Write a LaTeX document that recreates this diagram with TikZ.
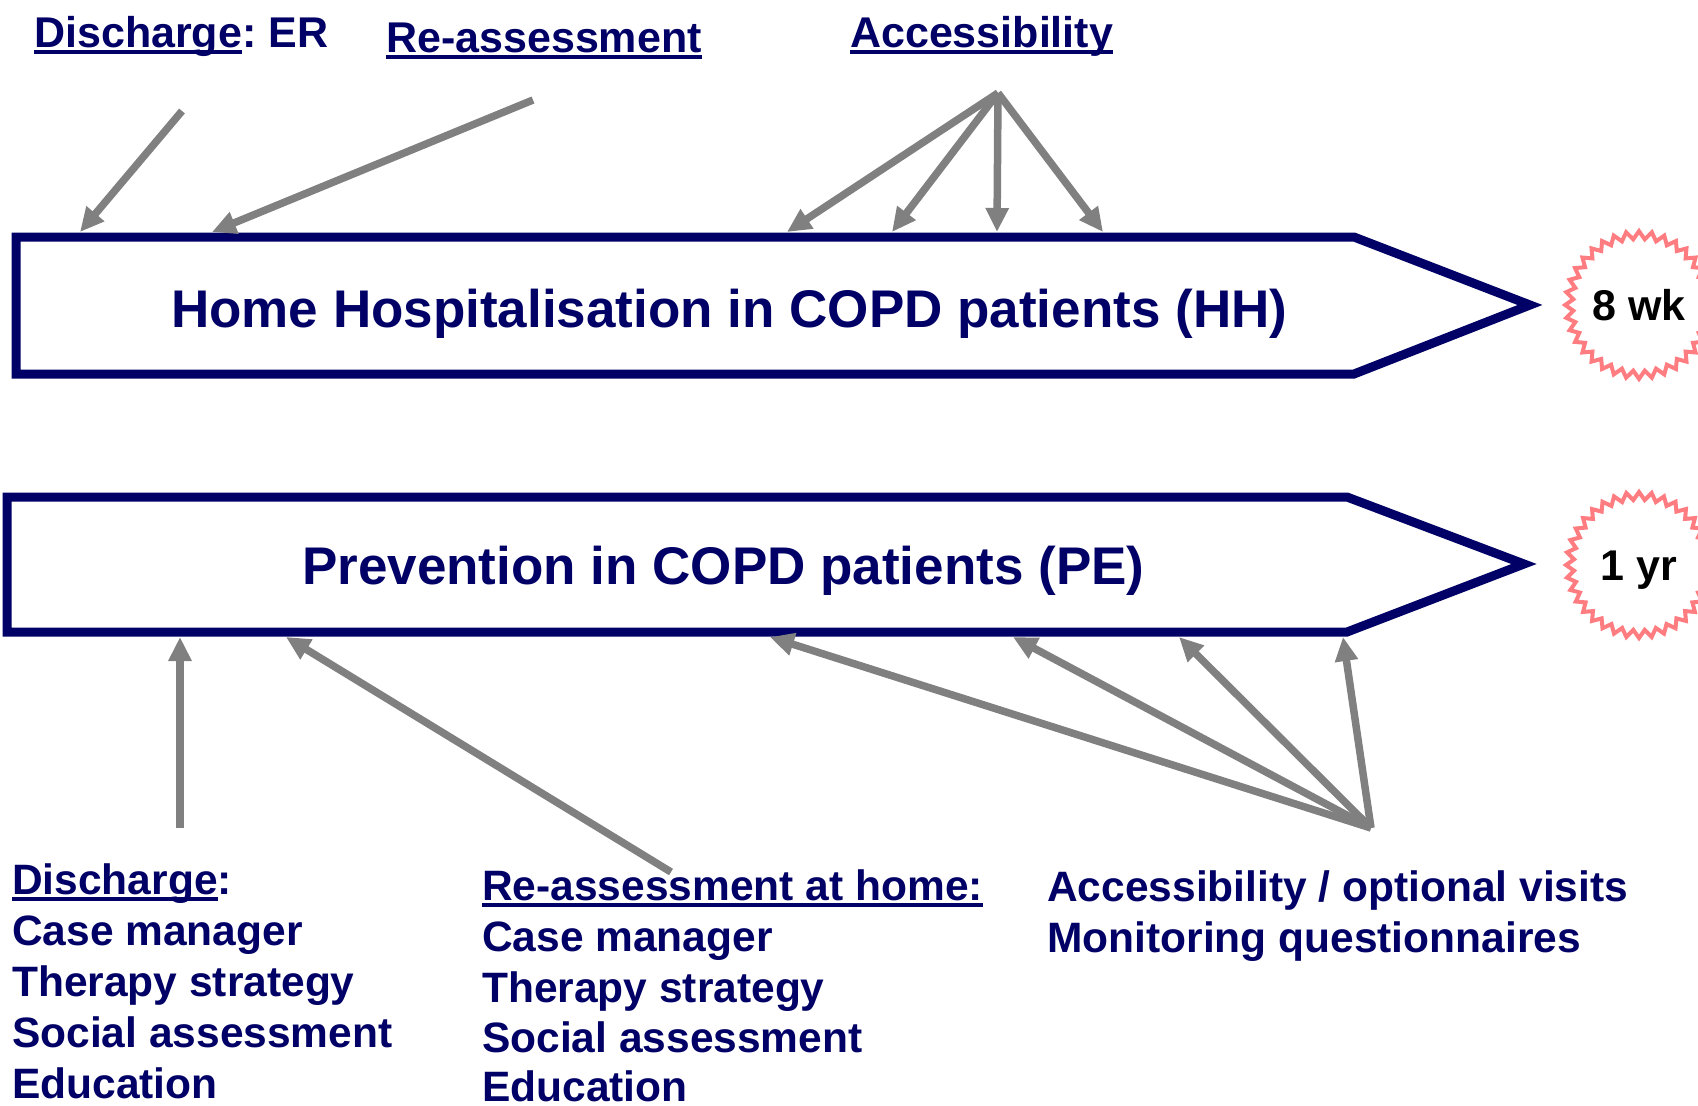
\documentclass[tikz,border=0pt]{standalone}
\usepackage{fontspec}
\setmainfont{Liberation Sans}
\usetikzlibrary{arrows.meta,shapes.geometric}
\definecolor{navy}{HTML}{000066}
\definecolor{conngray}{HTML}{808080}
\definecolor{burstred}{HTML}{FF7C80}
\newcommand\ulx[1]{\setbox0\hbox{#1}\rlap{\rule[-7pt]{\wd0}{4pt}}\box0}
\frenchspacing
\begin{document}
\begin{tikzpicture}[x=1pt,y=-1pt,
  lbl/.style={anchor=base west, inner sep=0pt, text=navy, font=\fontsize{43}{50}\selectfont\bfseries},
  coltxt/.style={anchor=base west, inner sep=0pt, text=navy, font=\fontsize{42.5}{50}\selectfont\bfseries},
  bigtxt/.style={anchor=base west, inner sep=0pt, text=navy, font=\fontsize{53}{60}\selectfont\bfseries},
  bigarrow/.style={draw=navy, line width=9pt, line join=miter, fill=white},
  conn/.style={draw=conngray, line width=7.5pt, -{Triangle[length=24pt,width=22pt]}},
  burst/.style={shape=star, star points=36, star point ratio=1.12, minimum size=146pt, inner sep=0pt, draw=burstred, line width=4pt, fill=white, text=black, text height=31pt, text depth=0pt, font=\fontsize{43}{50}\selectfont\bfseries}
]
\useasboundingbox[fill=white] (0,0) rectangle (1698,1106);

% big arrows
\path[bigarrow] (16,237) -- (1354,237) -- (1530,305) -- (1354,374) -- (16,374) -- cycle;
\path[bigarrow] (7,497) -- (1347,497) -- (1524,564) -- (1347,632) -- (7,632) -- cycle;

% connector end points
\coordinate (dsrc) at (182,111);  \coordinate (dtip) at (80,232);
\coordinate (rsrc) at (533,100);  \coordinate (rtip) at (212,232);
\coordinate (asrc) at (998,93);
\coordinate (atipa) at (787,232); \coordinate (atipb) at (892,232);
\coordinate (atipc) at (997,232); \coordinate (atipd) at (1103,232);
\coordinate (bdsrc) at (180,828); \coordinate (bdtip) at (180,637);
\coordinate (brsrc) at (671,872); \coordinate (brtip) at (286,637);
\coordinate (basrc) at (1371,828);
\coordinate (btipa) at (770,637); \coordinate (btipb) at (1013,637);
\coordinate (btipc) at (1179,637); \coordinate (btipd) at (1343,637);

\draw[conn] (dsrc) -- (dtip);
\draw[conn] (rsrc) -- (rtip);
\draw[conn] (asrc) -- (atipa);
\draw[conn] (asrc) -- (atipb);
\draw[conn] (asrc) -- (atipc);
\draw[conn] (asrc) -- (atipd);
\draw[conn] (bdsrc) -- (bdtip);
\draw[conn] (brsrc) -- (brtip);
\draw[conn] (basrc) -- (btipa);
\draw[conn] (basrc) -- (btipb);
\draw[conn] (basrc) -- (btipc);
\draw[conn] (basrc) -- (btipd);

% bursts
\node[burst] (wk) at (1639,305) {8 wk};
\node[burst] (yr) at (1639,565) {1 yr};

% texts
\node[lbl] (topdis) at (34,47) {\ulx{Discharge}: ER};
\node[lbl] (topre) at (386,52) {\ulx{Re-assessment}};
\node[lbl] (topacc) at (850,47) {\ulx{Accessibility}};
\node[bigtxt] (hhtxt) at (171,327) {Home Hospitalisation in COPD patients (HH)};
\node[bigtxt] (petxt) at (302,584) {Prevention in COPD patients (PE)};

\node[coltxt] (da) at (12,894) {\ulx{Discharge}:};
\node[coltxt] (db) at (12,945) {Case manager};
\node[coltxt] (dc) at (12,996) {Therapy strategy};
\node[coltxt] (dd) at (12,1047) {Social assessment};
\node[coltxt] (de) at (12,1098) {Education};

\node[coltxt] (ra) at (482,900) {\ulx{Re-assessment at home:}};
\node[coltxt] (rb) at (482,951) {Case manager};
\node[coltxt] (rc) at (482,1002) {Therapy strategy};
\node[coltxt] (rd) at (482,1052) {Social assessment};
\node[coltxt] (re) at (482,1101) {Education};

\node[coltxt] (aa) at (1047,901) {Accessibility / optional visits};
\node[coltxt] (ab) at (1047,952) {Monitoring questionnaires};
\end{tikzpicture}
\end{document}
